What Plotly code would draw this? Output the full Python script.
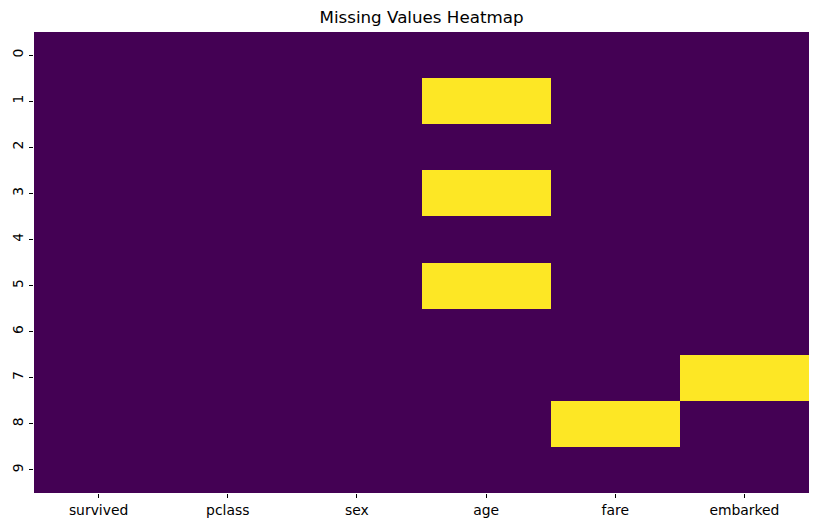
import plotly.graph_objects as go

columns = ["survived", "pclass", "sex", "age", "fare", "embarked"]
rows = ["0", "1", "2", "3", "4", "5", "6", "7", "8", "9"]
# 1 = missing, 0 = present
survived = [0, 0, 0, 0, 0, 0, 0, 0, 0, 0]
pclass = [0, 0, 0, 0, 0, 0, 0, 0, 0, 0]
sex = [0, 0, 0, 0, 0, 0, 0, 0, 0, 0]
age = [0, 1, 0, 1, 0, 1, 0, 0, 0, 0]
fare = [0, 0, 0, 0, 0, 0, 0, 0, 1, 0]
embarked = [0, 0, 0, 0, 0, 0, 0, 1, 0, 0]

cols_data = [survived, pclass, sex, age, fare, embarked]
z = [[c[i] for c in cols_data] for i in range(len(rows))]

fig = go.Figure(go.Heatmap(
    z=z, x=columns, y=rows,
    colorscale=[[0, "#440154"], [1, "#fde725"]],
    zmin=0, zmax=1, showscale=False, hoverongaps=False,
))

fig.update_layout(
    width=818, height=528,
    margin=dict(l=26, r=17, t=24, b=43),
    paper_bgcolor="white", plot_bgcolor="white",
    font=dict(family="DejaVu Sans", size=13.9, color="black"),
    title=dict(text="Missing Values Heatmap", x=(26 + 801) / 2 / 818, xanchor="center",
               y=1 - 9 / 528, yanchor="middle", font=dict(size=16.7)),
)
fig.update_xaxes(ticks="outside", ticklen=4, tickcolor="black", showgrid=False,
                 zeroline=False, showline=False, automargin=False)
fig.update_yaxes(autorange="reversed", ticks="outside", ticklen=4, tickcolor="black",
                 tickangle=-90, showgrid=False, zeroline=False, showline=False,
                 automargin=False)

fig.write_html("out.html")
